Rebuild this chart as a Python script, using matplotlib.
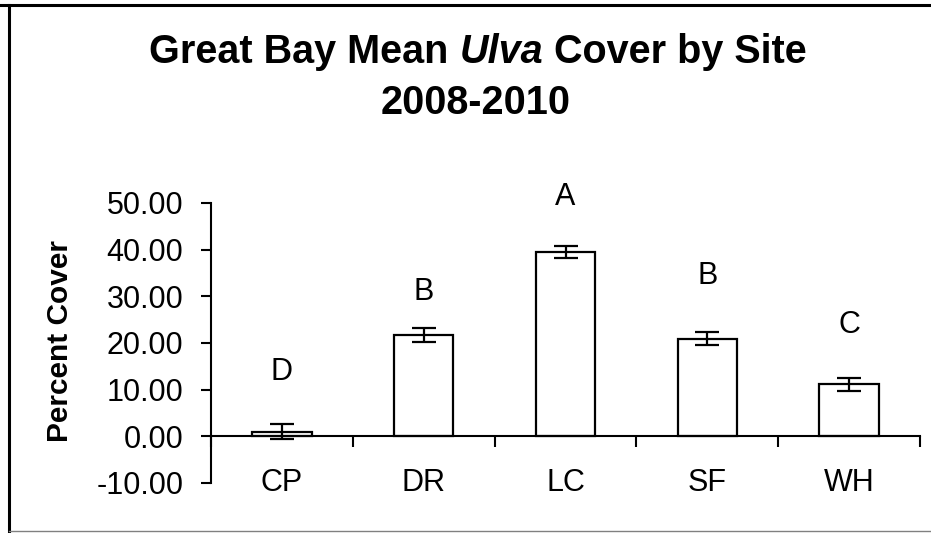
import matplotlib
matplotlib.use("Agg")
import matplotlib.pyplot as plt
from matplotlib.lines import Line2D
import numpy as np

plt.rcParams['font.family'] = ['Liberation Sans', 'DejaVu Sans']

sites = ["CP", "DR", "LC", "SF", "WH"]
cover = [1.0, 21.7, 39.5, 20.9, 11.2]
err = [1.6, 1.5, 1.3, 1.4, 1.4]
groups = ["D", "B", "A", "B", "C"]
group_y = [13.8, 30.9, 51.3, 34.4, 23.9]
yticks = [-10, 0, 10, 20, 30, 40, 50]

fig = plt.figure(figsize=(9.31, 5.33), dpi=100)
ax = fig.add_axes([211/931, 50/533, 709/931, 280/533])

x = np.arange(len(sites)) + 0.5
ax.bar(x, cover, width=0.42, color="white", edgecolor="black", linewidth=1.6, zorder=2)
ax.errorbar(x, cover, yerr=err, fmt="none", ecolor="black", elinewidth=1.6,
            capsize=8.5, capthick=1.6, zorder=3)

ax.set_xlim(0, 5)
ax.set_ylim(-10, 50)
ax.set_yticks(yticks)
ax.set_yticklabels(["%.2f" % v for v in yticks], fontsize=22)
ax.set_xticks(np.arange(0, 6))
ax.set_xticklabels([])
ax.tick_params(axis="y", direction="out", length=7, width=1.5, pad=13)
ax.tick_params(axis="x", direction="out", length=8, width=1.5)

for s in ["top", "right"]:
    ax.spines[s].set_visible(False)
ax.spines["bottom"].set_position(("data", 0))
ax.spines["bottom"].set_linewidth(1.5)
ax.spines["left"].set_linewidth(1.5)

for xi, lab in zip(x, sites):
    ax.text(xi, -10, lab, ha="center", va="center", fontsize=22)
for xi, g, gy in zip(x, groups, group_y):
    ax.text(xi, gy, g, ha="center", va="center", fontsize=22)

fig.text(60/931, 1 - 341/533, "Percent Cover", rotation=90, ha="center", va="center",
         fontsize=21.5, fontweight="bold")

# title, line 1 with italic Ulva
parts = [("Great Bay Mean ", "normal"), ("Ulva", "italic"), (" Cover by Site", "normal")]
y1 = 1 - 63/533
texts = [fig.text(0, y1, p, fontsize=28.5, fontweight="bold", style=st, va="baseline", ha="left")
         for p, st in parts]
fig.canvas.draw()
r = fig.canvas.get_renderer()
widths = [t.get_window_extent(r).width for t in texts]
total = sum(widths)
cx = 478
pos = cx - total / 2
for t, w in zip(texts, widths):
    t.set_x(pos / 931)
    pos += w
fig.text(476/931, 1 - 114/533, "2008-2010", fontsize=28.5, fontweight="bold",
         ha="center", va="baseline")

# frame around chart area
fig.add_artist(Line2D([0, 1], [1 - 4.5/533] * 2, color="black", linewidth=2.2, transform=fig.transFigure))
fig.add_artist(Line2D([8.5/931] * 2, [1 - 4.5/533, 1 - 531/533], color="black", linewidth=2.2, transform=fig.transFigure))
fig.add_artist(Line2D([8.5/931, 1], [1 - 531/533] * 2, color="#808080", linewidth=1, transform=fig.transFigure))

fig.savefig("out.png", dpi=100)
